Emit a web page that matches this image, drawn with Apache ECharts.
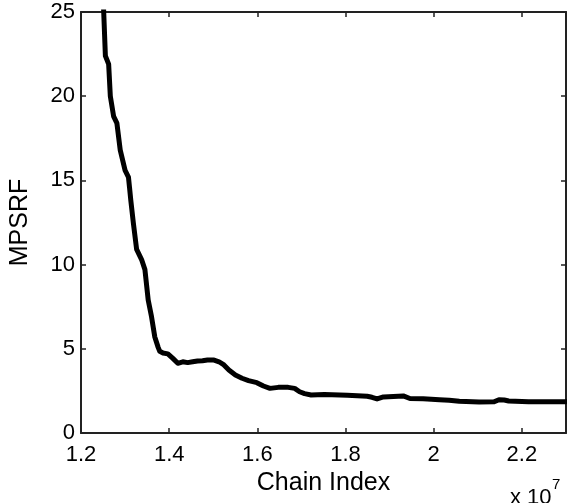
<!DOCTYPE html>
<html>
<head>
<meta charset="utf-8">
<script src="https://cdn.jsdelivr.net/npm/echarts@6/dist/echarts.min.js"></script>
<style>
  html, body { margin: 0; padding: 0; background: #fff; }
  #chart { width: 567px; height: 503px; }
</style>
</head>
<body>
<div id="chart"></div>
<script>
// Chain index (in units of 1e7) and the MPSRF convergence diagnostic
const chainIndex = [
  1.2500, 1.2515, 1.2553, 1.2627, 1.2665, 1.2740, 1.2814, 1.2890, 1.3000, 1.3076,
  1.3100, 1.3130, 1.3188, 1.3262, 1.3374, 1.3450, 1.3524, 1.3600, 1.3674, 1.3748,
  1.3786, 1.3860, 1.3970, 1.4084, 1.4196, 1.4308, 1.4420, 1.4532, 1.4644, 1.4756,
  1.4868, 1.5018, 1.5130, 1.5242, 1.5354, 1.5502, 1.5652, 1.5800, 1.5988, 1.6138,
  1.6286, 1.6475, 1.6699, 1.6846, 1.6958, 1.7070, 1.7220, 1.7520, 1.8040, 1.8490,
  1.8600, 1.8715, 1.8860, 1.9310, 1.9460, 1.9760, 2.0130, 2.0350, 2.0580, 2.1030,
  2.1370, 2.1480, 2.1600, 2.1700, 2.2150, 2.3000
];
const mpsrf = [
  26.0, 25.0, 22.4, 21.9, 20.0, 18.8, 18.4, 16.8, 15.6, 15.2,
  14.6, 13.8, 12.45, 10.9, 10.3, 9.7, 7.9, 6.9, 5.7, 5.1,
  4.85, 4.75, 4.7, 4.43, 4.14, 4.23, 4.18, 4.23, 4.28, 4.29,
  4.33, 4.33, 4.23, 4.04, 3.74, 3.44, 3.25, 3.11, 2.99, 2.79,
  2.65, 2.71, 2.71, 2.65, 2.45, 2.34, 2.26, 2.28, 2.24, 2.18,
  2.12, 2.02, 2.14, 2.20, 2.05, 2.04, 1.98, 1.95, 1.88, 1.84,
  1.85, 1.98, 1.96, 1.90, 1.86, 1.86
];
const xTickStep = 0.2;
const yTickStep = 5;
const xRange = [1.2, 2.3];
const yRange = [0, 25];

const FONT = '"Liberation Sans", Arial, Helvetica, sans-serif';
const AXIS_COLOR = '#222222';

const chart = echarts.init(document.getElementById('chart'));

// Box-style axes: every side gets a line and inward-pointing ticks
const frameAxis = (extra) => Object.assign({
  type: 'value',
  axisLine: { show: true, onZero: false, lineStyle: { color: AXIS_COLOR, width: 2 } },
  axisTick: { show: true, inside: true, length: 5, lineStyle: { color: AXIS_COLOR, width: 1.5 } },
  splitLine: { show: false }
}, extra);

const option = {
  animation: false,
  grid: { left: 77, right: 1, top: 12, bottom: 70 },
  xAxis: [
    frameAxis({
      position: 'bottom',
      min: xRange[0], max: xRange[1], interval: xTickStep,
      name: 'Chain Index',
      nameLocation: 'middle',
      nameGap: 31,
      nameTextStyle: { fontFamily: FONT, fontSize: 25, color: '#000' },
      axisLabel: {
        showMaxLabel: false,
        margin: 11,
        fontFamily: FONT, fontSize: 22, color: '#000',
        formatter: (v) => String(Number(v.toFixed(1)))
      }
    }),
    frameAxis({
      position: 'top',
      min: xRange[0], max: xRange[1], interval: xTickStep,
      axisLabel: { show: false }
    })
  ],
  yAxis: [
    frameAxis({
      position: 'left',
      min: yRange[0], max: yRange[1], interval: yTickStep,
      name: 'MPSRF',
      nameLocation: 'middle',
      nameGap: 48,
      nameTextStyle: { fontFamily: FONT, fontSize: 25, color: '#000' },
      axisLabel: { margin: 6, fontFamily: FONT, fontSize: 22, color: '#000' }
    }),
    frameAxis({
      position: 'right',
      min: yRange[0], max: yRange[1], interval: yTickStep,
      axisLabel: { show: false }
    })
  ],
  series: [{
    type: 'line',
    data: chainIndex.map((x, i) => [x, mpsrf[i]]),
    showSymbol: false,
    symbol: 'none',
    lineStyle: { color: '#000', width: 5, join: 'round', cap: 'round' }
  }],
  graphic: [
    {
      type: 'text', left: 510, top: 487,
      style: { text: 'x 10', fontFamily: FONT, fontSize: 22, fill: '#000' }
    },
    {
      type: 'text', left: 552, top: 477,
      style: { text: '7', fontFamily: FONT, fontSize: 15, fill: '#000' }
    }
  ]
};

chart.setOption(option);
</script>
</body>
</html>
